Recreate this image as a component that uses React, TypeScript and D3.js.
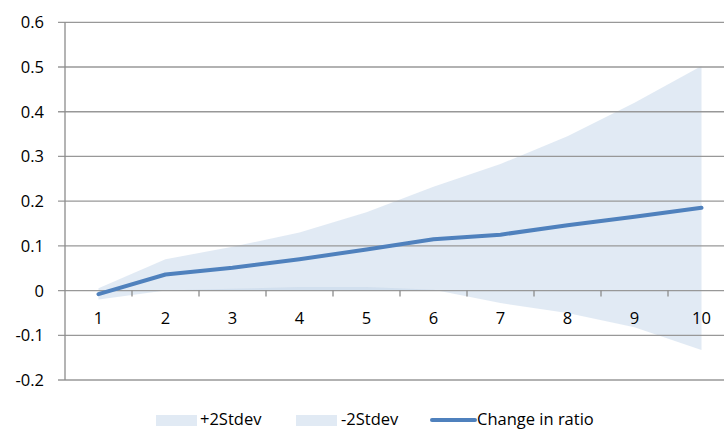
import React from "react";
import * as d3 from "d3";

const categories = ["1", "2", "3", "4", "5", "6", "7", "8", "9", "10"];
const plus2Stdev = [0.005, 0.07, 0.098, 0.13, 0.175, 0.232, 0.283, 0.345, 0.42, 0.502];
const minus2Stdev = [-0.02, 0.0, 0.004, 0.008, 0.008, 0.002, -0.028, -0.05, -0.082, -0.133];
const changeInRatio = [-0.008, 0.036, 0.051, 0.07, 0.092, 0.115, 0.125, 0.146, 0.165, 0.185];
const yTicks = [0.6, 0.5, 0.4, 0.3, 0.2, 0.1, 0, -0.1, -0.2];
const legendLabels = ["+2Stdev", "-2Stdev", "Change in ratio"];

const W = 724;
const H = 430;
const FONT = "'Open Sans', 'Noto Sans', sans-serif";
const FS = 16.5;
const LINE = "#4F81BD";
const AREA = "#C4D5EA";

export default function App() {
  const x = d3.scaleBand<string>().domain(categories).range([65, 735]);
  const cx = (i: number) => (x(categories[i]) as number) + x.bandwidth() / 2;
  const y = d3.scaleLinear().domain([-0.2, 0.6]).range([380, 22.3]);

  const area = (vals: number[]) =>
    d3
      .area<number>()
      .x((_, i) => cx(i))
      .y0(y(0))
      .y1((d) => y(d))(vals) as string;

  const line = d3
    .line<number>()
    .x((_, i) => cx(i))
    .y((d) => y(d))(changeInRatio) as string;

  const fmt = (v: number) => (v === 0 ? "0" : d3.format(".1f")(v).replace("\u2212", "-"));

  return (
    <svg width={W} height={H} style={{ position: "absolute", left: 0, top: 0, background: "#fff" }}>
      <rect width={W} height={H} fill="#fff" />
      {/* areas */}
      <path d={area(plus2Stdev)} fill={AREA} fillOpacity={0.5} />
      <path d={area(minus2Stdev)} fill={AREA} fillOpacity={0.5} />
      {/* gridlines */}
      {yTicks.map((t) => (
        <line key={t} x1={58} x2={W} y1={y(t)} y2={y(t)} stroke="#989898" strokeWidth={1.3} />
      ))}
      {/* y axis */}
      <line x1={65} x2={65} y1={y(0.6)} y2={y(-0.2)} stroke="#8c8c8c" strokeWidth={1.3} />
      {/* x ticks on zero line */}
      {categories.map((c) => (
        <line
          key={c}
          x1={(x(c) as number) + x.bandwidth()}
          x2={(x(c) as number) + x.bandwidth()}
          y1={y(0)}
          y2={y(0) + 6}
          stroke="#8c8c8c"
          strokeWidth={1.3}
        />
      ))}
      {/* line */}
      <path d={line} fill="none" stroke={LINE} strokeWidth={4} strokeLinejoin="round" strokeLinecap="round" />
      {/* y labels */}
      {yTicks.map((t) => (
        <text key={t} x={44} y={y(t) + 6} textAnchor="end" fontFamily={FONT} fontSize={FS} fill="#000">
          {fmt(t)}
        </text>
      ))}
      {/* x labels */}
      {categories.map((c, i) => (
        <text key={c} x={cx(i)} y={323.5} textAnchor="middle" fontFamily={FONT} fontSize={FS} fill="#000">
          {c}
        </text>
      ))}
      {/* legend */}
      <rect x={156} y={415} width={41} height={11} fill={AREA} fillOpacity={0.5} />
      <text x={200} y={425} fontFamily={FONT} fontSize={FS} fill="#000">
        {legendLabels[0]}
      </text>
      <rect x={296} y={415} width={41} height={11} fill={AREA} fillOpacity={0.5} />
      <text x={341} y={425} fontFamily={FONT} fontSize={FS} fill="#000">
        {legendLabels[1]}
      </text>
      <line x1={432} x2={475} y1={420} y2={420} stroke={LINE} strokeWidth={4} strokeLinecap="round" />
      <text x={477} y={425} fontFamily={FONT} fontSize={FS} fill="#000">
        {legendLabels[2]}
      </text>
    </svg>
  );
}
